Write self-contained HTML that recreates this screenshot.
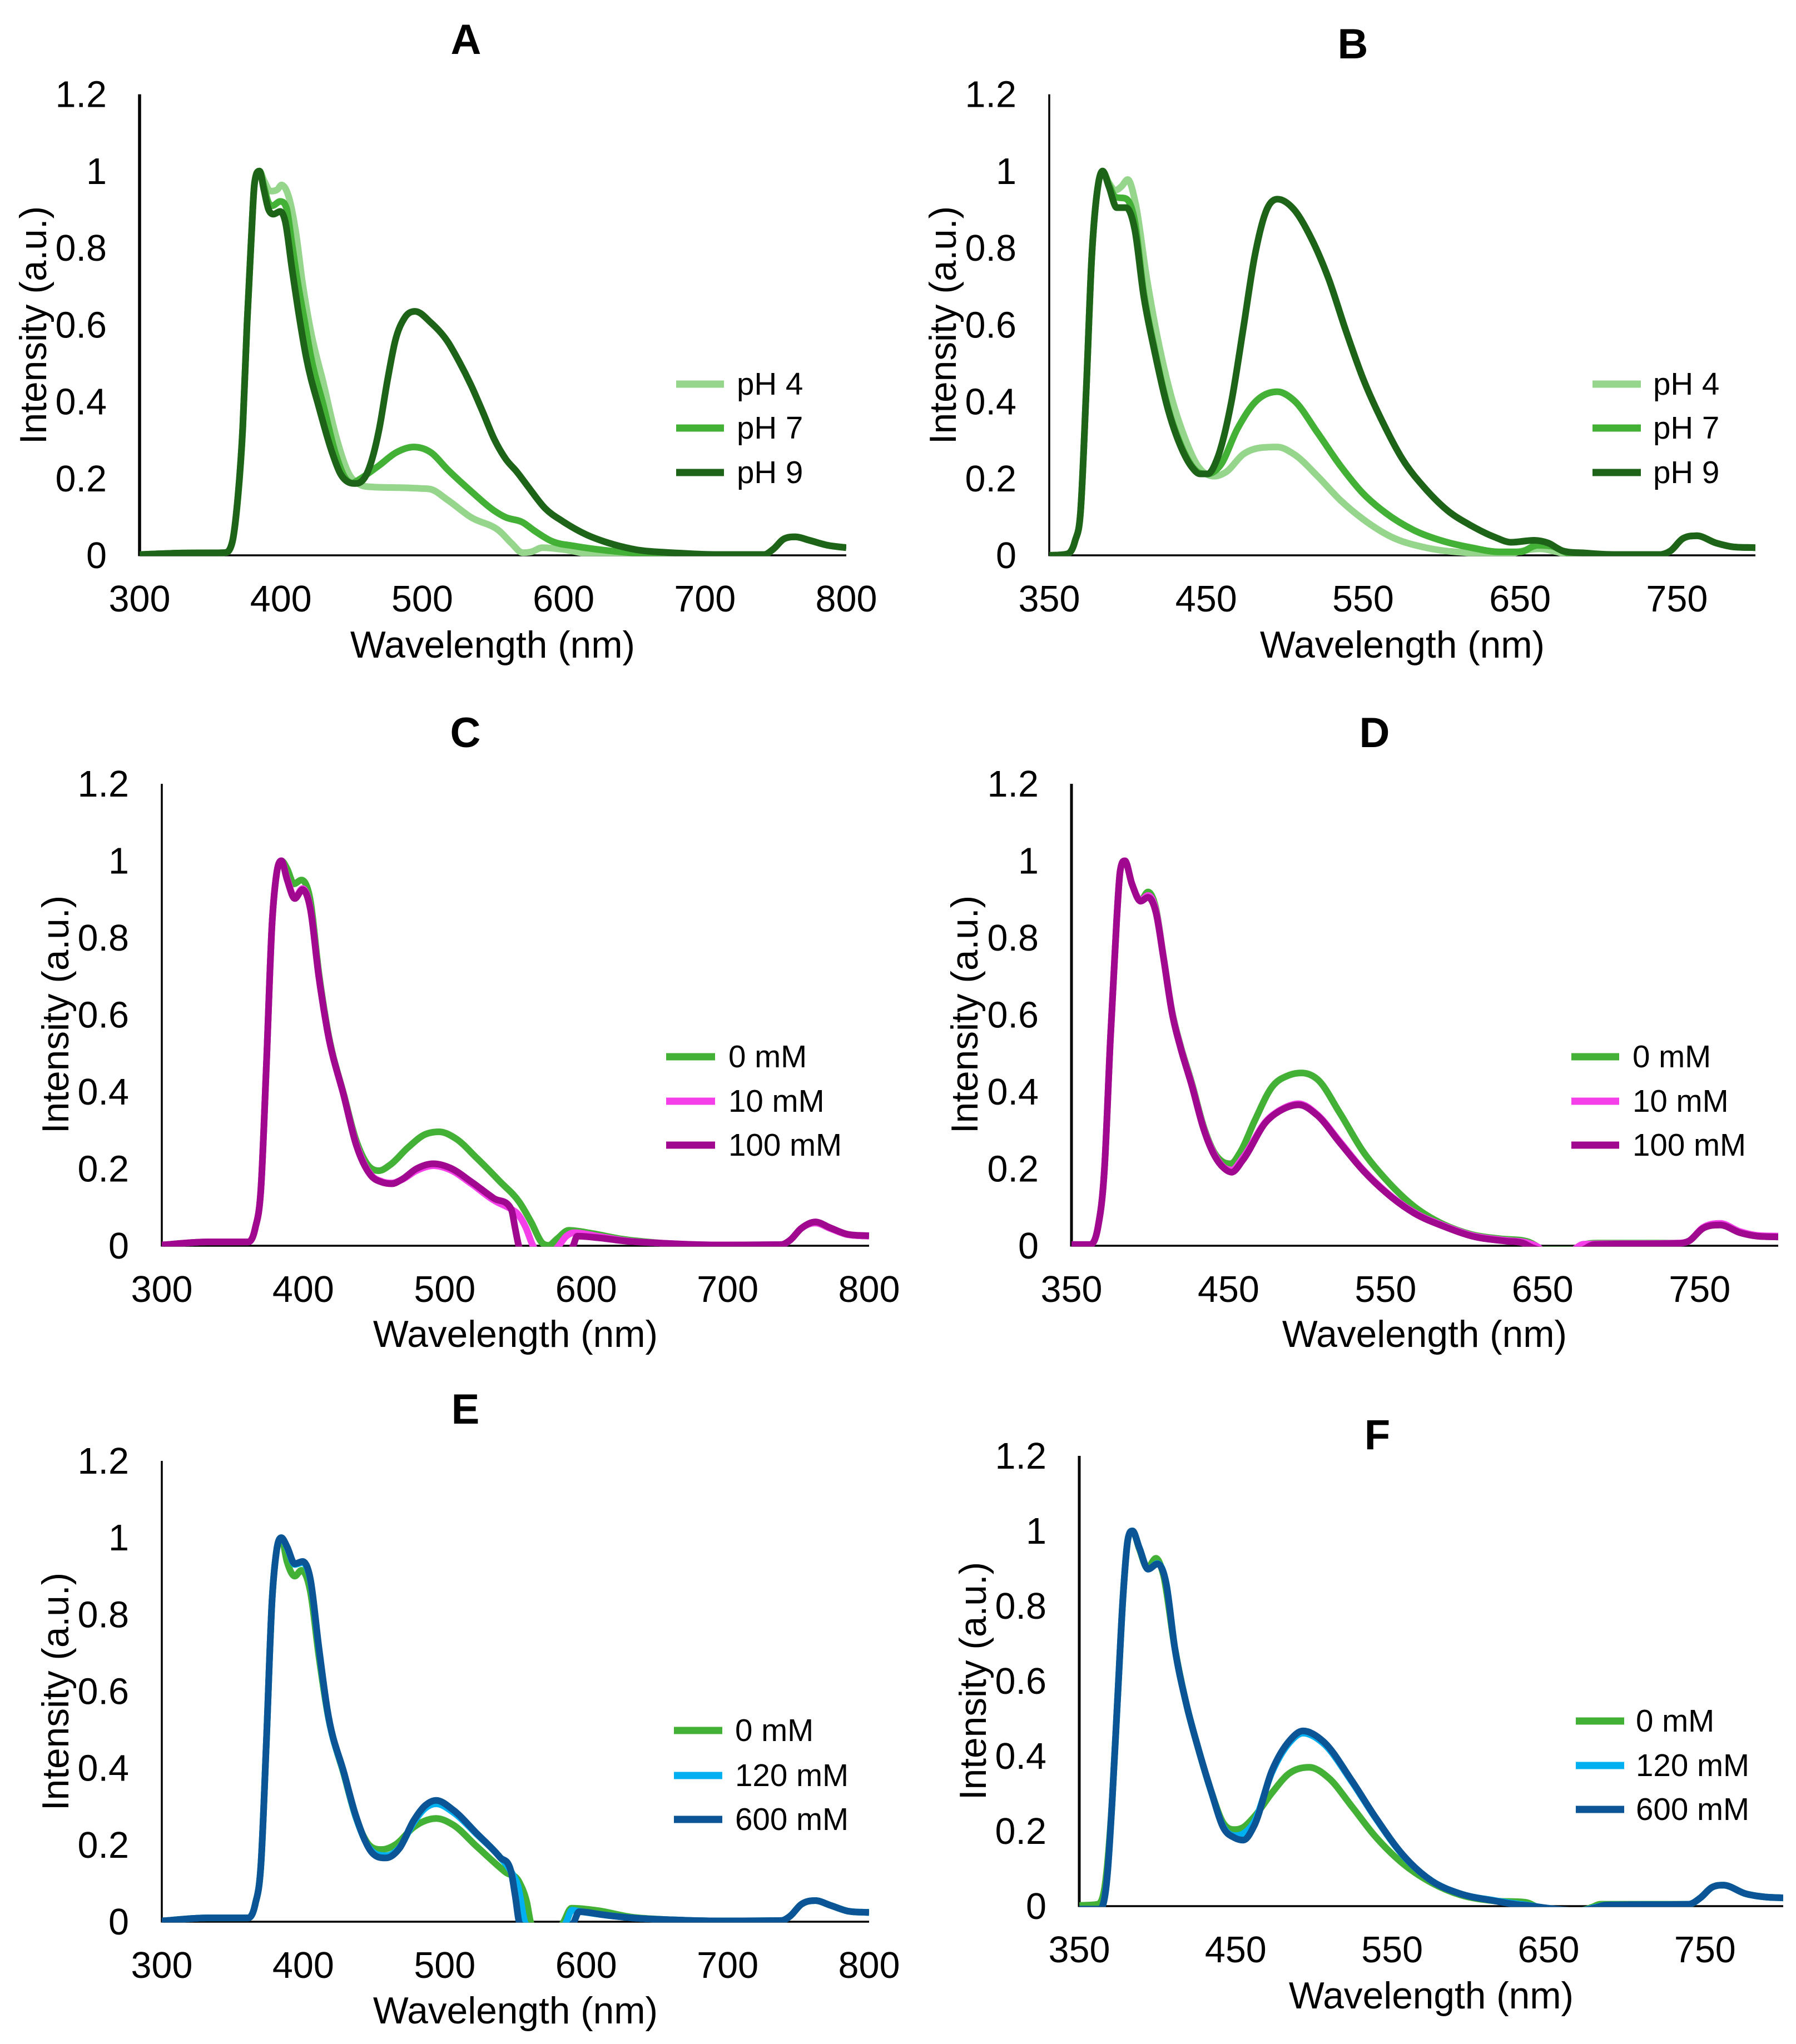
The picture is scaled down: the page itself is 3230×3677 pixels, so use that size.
<!DOCTYPE html>
<html lang="en">
<head>
<meta charset="utf-8">
<title>Emission spectra panels A-F</title>
<style>
html,body{margin:0;padding:0;background:#fff;width:3230px;height:3677px;overflow:hidden}
svg{position:absolute;left:0;top:0;display:block}
text{font-family:"Liberation Sans",Arial,sans-serif;fill:#000}
.title{font-size:76px;font-weight:700;text-anchor:middle}
.axt{font-size:67.6px;text-anchor:middle}
.tick{font-size:66.5px}
.leg{font-size:56.5px}
</style>
</head>
<body>
<svg xmlns="http://www.w3.org/2000/svg" width="3230" height="3677" viewBox="0 0 3230 3677">
<rect x="0" y="0" width="3230" height="3677" fill="#fff"/>

<g id="panel-a">
<text class="title" x="838" y="97">A</text>
<text class="axt" x="886" y="1183">Wavelength (nm)</text>
<text class="axt" transform="translate(83 585) rotate(-90)">Intensity (a.u.)</text>
<g>
<rect x="1216" y="684.5" width="86" height="13" fill="#96D68C"/><text class="leg" x="1325" y="710">pH 4</text>
<rect x="1216" y="763.5" width="86" height="13" fill="#43B036"/><text class="leg" x="1325" y="789">pH 7</text>
<rect x="1216" y="843.5" width="86" height="13" fill="#1E6418"/><text class="leg" x="1325" y="869">pH 9</text>
</g>
</g>

<g id="panel-b">
<text class="title" x="2433" y="105">B</text>
<text class="axt" x="2522" y="1183">Wavelength (nm)</text>
<text class="axt" transform="translate(1719 585) rotate(-90)">Intensity (a.u.)</text>
<g>
<rect x="2864" y="684.5" width="87" height="13" fill="#96D68C"/><text class="leg" x="2973" y="710">pH 4</text>
<rect x="2864" y="763.5" width="87" height="13" fill="#43B036"/><text class="leg" x="2973" y="789">pH 7</text>
<rect x="2864" y="843.5" width="87" height="13" fill="#1E6418"/><text class="leg" x="2973" y="869">pH 9</text>
</g>
</g>

<g id="panel-c">
<text class="title" x="837" y="1344">C</text>
<text class="axt" x="927" y="2423">Wavelength (nm)</text>
<text class="axt" transform="translate(123 1825) rotate(-90)">Intensity (a.u.)</text>
<g>
<rect x="1198" y="1894.5" width="88" height="13" fill="#43B036"/><text class="leg" x="1310" y="1920">0 mM</text>
<rect x="1198" y="1974.5" width="88" height="13" fill="#F53FE8"/><text class="leg" x="1310" y="2000">10 mM</text>
<rect x="1198" y="2053.5" width="88" height="13" fill="#A0088F"/><text class="leg" x="1310" y="2079">100 mM</text>
</g>
</g>

<g id="panel-d">
<text class="title" x="2472" y="1344">D</text>
<text class="axt" x="2562" y="2423">Wavelength (nm)</text>
<text class="axt" transform="translate(1758 1825) rotate(-90)">Intensity (a.u.)</text>
<g>
<rect x="2826" y="1894.5" width="86" height="13" fill="#43B036"/><text class="leg" x="2936" y="1920">0 mM</text>
<rect x="2826" y="1974.5" width="86" height="13" fill="#F53FE8"/><text class="leg" x="2936" y="2000">10 mM</text>
<rect x="2826" y="2053.5" width="86" height="13" fill="#A0088F"/><text class="leg" x="2936" y="2079">100 mM</text>
</g>
</g>

<g id="panel-e">
<text class="title" x="837" y="2561">E</text>
<text class="axt" x="927" y="3640">Wavelength (nm)</text>
<text class="axt" transform="translate(123 3043) rotate(-90)">Intensity (a.u.)</text>
<g>
<rect x="1212" y="3106.5" width="87" height="13" fill="#43B036"/><text class="leg" x="1322" y="3132">0 mM</text>
<rect x="1212" y="3187.5" width="87" height="13" fill="#00B0F0"/><text class="leg" x="1322" y="3213">120 mM</text>
<rect x="1212" y="3266.5" width="87" height="13" fill="#0B5495"/><text class="leg" x="1322" y="3292">600 mM</text>
</g>
</g>

<g id="panel-f">
<text class="title" x="2477" y="2607">F</text>
<text class="axt" x="2574" y="3613">Wavelength (nm)</text>
<text class="axt" transform="translate(1773 3024) rotate(-90)">Intensity (a.u.)</text>
<g>
<rect x="2834" y="3089.5" width="87" height="13" fill="#43B036"/><text class="leg" x="2942" y="3115">0 mM</text>
<rect x="2834" y="3169.5" width="87" height="13" fill="#00B0F0"/><text class="leg" x="2942" y="3195">120 mM</text>
<rect x="2834" y="3248.5" width="87" height="13" fill="#0B5495"/><text class="leg" x="2942" y="3274">600 mM</text>
</g>
</g>
</svg>

<script>
// Tick labels
const yTicks = [0, 0.2, 0.4, 0.6, 0.8, 1, 1.2];
const xTicks300 = [300, 400, 500, 600, 700, 800];
const xTicks350 = [350, 450, 550, 650, 750];

// Panel A
const aNmPh4 = [300,330,360,365.5,369,373,376,379,381.3,384.8,388,392.6,397.5,400.4,406,411,415,421,430,439,448,456,465,487,499,506,518,534.5,555,563,571,577,585,600,620,660,709,742,748,756,764,774,787,800];
const aValPh4 = [.002,.006,.007,.033,.125,.33,.6,.82,.965,1,.976,.948,.952,.964,.927,.83,.717,.586,.449,.31,.213,.184,.178,.176,.174,.172,.144,.099,.062,.032,.007,.009,.02,.015,.003,.001,.002,.002,.015,.043,.048,.039,.026,.02];
const aNmPh7 = [300,330,360,365.5,369,373,376,379,381.3,384.8,388,391,394,399.4,404,407.7,412,416.7,421,430,439,445,451,453,469.5,481.7,494,506,518,534.5,551,559,571,579,591.5,608,632,669,709,742,748,756,764,774,787,800];
const aValPh7 = [.002,.006,.007,.033,.13,.334,.6,.822,.968,1,.96,.92,.91,.921,.903,.814,.708,.611,.521,.391,.261,.204,.188,.192,.234,.268,.282,.268,.223,.167,.116,.099,.086,.065,.037,.024,.012,.003,.002,.002,.015,.043,.048,.039,.026,.02];
const aNmPh9 = [300,330,360,365.5,369,373,376,379,381.3,384.8,388,391,394.8,399.4,403,407.7,412,418,427,436,442,448,453,461.7,469.4,475.4,481,487.5,495,506,518,526,534.5,542.6,551,559,567,575,587,599.6,616,632,648,681,709,742,748,756,764,774,787,800];
const aValPh9 = [.002,.006,.007,.033,.13,.334,.6,.822,.968,1,.951,.903,.888,.895,.87,.749,.643,.513,.384,.27,.213,.19,.187,.22,.326,.456,.56,.618,.635,.606,.556,.505,.443,.375,.302,.251,.217,.178,.122,.088,.054,.032,.017,.006,.002,.002,.015,.043,.048,.039,.026,.02];

// Panel B
const bNmPh4 = [350,361,366.4,370,373.6,377,381,384,388,392,396,400,405,412,419,428,436,444.5,455.4,462.7,473.6,484.5,495.4,506,521,535.4,550,568,590,619,641,652,662.6,673.5,681,692,710,739,746,753.5,762.6,775,786,800];
const bValPh4 = [0,.003,.037,.116,.432,.77,.96,1,.97,.95,.96,.978,.916,.725,.567,.41,.31,.234,.206,.217,.263,.28,.282,.263,.206,.144,.094,.048,.02,.006,.002,.012,.017,.009,.002,.002,.002,.002,.012,.043,.051,.032,.022,.02];
const bNmPh7 = [350,361,366.4,370,373.6,377,381,384,388,392,399,404.5,410,417,426,433.6,441,446,451,459,470,481,495.4,506,521,535.4,550,564.5,582.6,601,619,637,650,661,670,681,692,710,739,746,753.5,762.6,775,786,800];
const bValPh7 = [0,.003,.037,.116,.432,.77,.96,1,.965,.933,.928,.87,.69,.54,.38,.29,.232,.214,.212,.234,.33,.398,.426,.403,.319,.234,.161,.11,.065,.037,.02,.009,.009,.026,.024,.005,.002,.002,.002,.012,.043,.051,.032,.022,.02];
const bNmPh9 = [350,361,366.4,370,373.6,377,381,384,388,393,399,404.5,410,417,426,433.6,441,446,451,457,466,473.6,481,488,495.4,506,517,528,539,550,564.5,575,590,604,619,633.5,644.4,659,668,677,692,710,739,746,753.5,762.6,775,786,800];
const bValPh9 = [0,.003,.037,.116,.432,.77,.96,1,.96,.905,.905,.848,.68,.533,.375,.285,.229,.212,.212,.251,.398,.589,.78,.894,.927,.9,.825,.72,.585,.46,.33,.251,.172,.116,.077,.048,.034,.039,.032,.012,.006,.002,.002,.012,.043,.051,.032,.022,.02];

// Panel C
const cNm0 = [300,332,361,366,370,374,378,381,384.5,388.5,393.4,398.7,405,411,417,429,437,445.4,453.5,461.7,474,486,496,508,522.6,539,553,561,569,573.4,579.5,587.6,604,624,652.6,693,738,744,752,762,772.4,784.6,800];
const cVal0 = [.002,.01,.01,.045,.145,.477,.84,.963,1,.98,.94,.95,.897,.709,.565,.388,.278,.211,.195,.211,.255,.289,.296,.278,.228,.167,.112,.062,.007,.001,.018,.04,.032,.018,.007,.002,.003,.014,.045,.059,.045,.029,.025];
const cNm10 = [300,332,361,366,370,374,378,381,384.5,388.5,394,399.5,405,411,417,429,437,447.5,455.6,462.5,470,480,492,504,518.5,534.8,547,551,557,562.4,570,579.5,586,591.6,608,628,652.6,693,738,744,752,762,772.4,784.6,800];
const cVal10 = [.002,.01,.01,.045,.145,.477,.84,.963,1,.955,.905,.928,.877,.7,.56,.385,.27,.186,.167,.163,.172,.195,.208,.197,.162,.118,.095,.085,.05,0,-.03,-.005,.025,.034,.025,.013,.007,.002,.003,.014,.045,.059,.045,.029,.025];
const cNm100 = [300,332,361,366,370,374,378,381,384.5,388.5,394,399.5,405,411,417,429,437,447.5,455.6,462.5,470,480,492,504,518.5,534.8,547,549.8,552.3,556,585,590.8,593.7,608,628,652.6,693,738,744,752,762,772.4,784.6,800];
const cVal100 = [.002,.01,.01,.045,.145,.477,.84,.963,1,.952,.902,.925,.875,.698,.56,.385,.267,.184,.165,.161,.173,.2,.213,.202,.167,.123,.095,.045,0,-.03,-.03,0,.025,.021,.012,.007,.002,.003,.014,.045,.062,.047,.03,.026];

// Panel D
const dNm0 = [350,361,366.7,371,374.7,378.7,381,384,388.5,394,398.7,403.8,408.5,414,419.4,426.7,434,441.2,446.7,451.4,457.6,466.7,477.6,488.5,496.5,506.7,521,535.8,550,568.5,586.6,605,623,641,646.6,650,670,677.5,685,735.8,743,752,763,775.6,786.5,800];
const dVal0 = [.003,.003,.045,.2,.532,.842,.974,1,.94,.897,.919,.875,.753,.609,.52,.421,.311,.24,.217,.213,.244,.325,.412,.443,.449,.432,.344,.244,.173,.101,.056,.029,.018,.01,-.002,-.01,-.01,.004,.007,.007,.012,.045,.054,.034,.025,.023];
const dNm10 = [350,361,366.7,371,374.7,378.7,381,384,388.5,394,398.7,403.8,408.5,414,419.4,426.7,434,441.2,446.7,452,459,474,484.8,494.7,506.7,521,535.8,550,568.5,586.6,605,626.5,640,647,650,668,676,735.8,743,752,763,775.6,786.5,800];
const dVal10 = [.003,.003,.045,.2,.532,.842,.974,1,.94,.897,.91,.87,.752,.607,.517,.417,.307,.236,.205,.197,.228,.324,.357,.369,.34,.27,.197,.141,.086,.053,.027,.014,.008,-.003,-.012,-.012,.004,.007,.012,.047,.058,.037,.027,.025];
const dNm100 = [350,361,366.7,371,374.7,378.7,381,384,388.5,394,398.7,403.8,408.5,414,419.4,426.7,434,441.2,446.7,452,459,474,484.8,494.7,506.7,521,535.8,550,568.5,586.6,605,626.5,637.5,643,650,673.7,682.8,735.8,743,752,763,775.6,786.5,800];
const dVal100 = [.003,.003,.045,.2,.532,.842,.974,1,.94,.895,.905,.865,.75,.605,.515,.415,.305,.233,.203,.191,.222,.322,.355,.366,.338,.267,.195,.139,.084,.051,.025,.012,.007,-.004,-.012,-.012,.003,.006,.012,.045,.054,.034,.025,.023];

// Panel E
const eNm0 = [300,332,361,366,370,374,378,381,384.5,388.5,394,398.7,405,411,417,429,437,445,455.6,465.7,478,494,506,522.6,543,553,558,561,570,583.5,589.6,608,632,660,693,738,744,752,762,772.4,784.6,800];
const eVal0 = [.002,.01,.01,.045,.145,.477,.84,.963,1,.938,.9,.915,.86,.692,.547,.38,.274,.207,.188,.202,.246,.269,.252,.196,.129,.101,.051,-.004,-.03,-.004,.035,.029,.012,.005,.002,.003,.014,.045,.055,.043,.028,.024];
const eNm120 = [300,332,361,366,370,374,378,381,384.5,388.5,394,399.5,405,411,417,429,437,447,458.4,467.8,478,486,494,506,522.6,539,547,552,557,570,585.5,590,595,612,632,660,693,738,744,752,762,772.4,784.6,800];
const eVal120 = [.002,.01,.01,.045,.145,.477,.84,.963,1,.975,.93,.935,.89,.712,.55,.383,.275,.19,.172,.192,.258,.295,.307,.285,.228,.168,.13,.09,-.004,-.03,-.004,.03,.027,.018,.01,.005,.002,.003,.014,.045,.055,.043,.028,.024];
const eNm600 = [300,332,361,366,370,374,378,381,384.5,388.5,394,399.5,405,411,417,429,437,447.5,458.4,467.8,478,486,494,506,522.6,539,547,549.8,553,570,590.8,595,612,632,660,693,738,744,752,762,772.4,784.6,800];
const eVal600 = [.002,.01,.01,.045,.145,.477,.84,.963,1,.977,.932,.938,.893,.715,.553,.385,.278,.185,.166,.19,.263,.302,.316,.291,.23,.168,.129,.068,-.004,-.03,-.004,.026,.018,.01,.005,.002,.003,.014,.045,.055,.043,.028,.024];

// Panel F
const fNm0 = [350,361.7,367,371,374.5,378,381,384,388.4,393.5,399,403.7,411,418.3,425.6,434.7,442,449.4,454.8,462,473,484,497,509.6,524,539,557,575.4,593.6,615.6,635.7,643,650,670,677.7,683,739.6,747,754.4,761.7,776,787,800];
const fVal0 = [.002,.005,.073,.279,.553,.827,.975,1,.952,.901,.927,.884,.69,.541,.427,.301,.222,.204,.21,.239,.301,.353,.37,.341,.267,.187,.113,.062,.03,.014,.01,-.003,-.012,-.012,-.003,.005,.005,.022,.05,.056,.033,.025,.022];
const fNm120 = [350,363,368,371,374.5,378,381,384,388.4,394,400,405.5,411,418.3,425.6,434.7,442,449.4,454.8,462,473,484,493,506,524,539,557,575.4,593.6,615.6,630,638,645,670,680,686.7,739.6,747,754.4,761.7,776,787,800];
const fVal120 = [-.008,-.008,.085,.279,.553,.827,.975,1,.955,.898,.913,.862,.69,.541,.427,.3,.212,.188,.193,.226,.355,.434,.461,.434,.333,.237,.135,.067,.033,.015,.006,.002,-.003,-.012,-.003,.003,.005,.022,.05,.056,.033,.025,.022];
const fNm600 = [350,363,368,371,374.5,378,381,384,388.4,394,400,405.5,411,418.3,425.6,434.7,442,449.4,454.8,462,473,484,493,506,524,539,557,575.4,593.6,615.6,630,638,645,670,680,686.7,739.6,747,754.4,761.7,776,787,800];
const fVal600 = [-.008,-.008,.085,.279,.553,.827,.975,1,.955,.898,.912,.861,.69,.541,.427,.301,.21,.182,.176,.216,.359,.439,.467,.439,.336,.239,.136,.067,.033,.014,.004,.001,-.003,-.012,-.004,.003,.005,.022,.05,.056,.033,.025,.022];

const SVGNS = 'http://www.w3.org/2000/svg';

function smoothPath(px, py) {
  const n = Math.min(px.length, py.length);
  const d = [], m = [];
  for (let i = 0; i < n - 1; i++) d.push((py[i + 1] - py[i]) / (px[i + 1] - px[i]));
  m[0] = d[0];
  m[n - 1] = d[n - 2];
  for (let i = 1; i < n - 1; i++) {
    if (d[i - 1] * d[i] <= 0) { m[i] = 0; continue; }
    const h0 = px[i] - px[i - 1], h1 = px[i + 1] - px[i];
    const avg = (h1 * d[i - 1] + h0 * d[i]) / (h0 + h1);
    const lim = 3 * Math.min(Math.abs(d[i - 1]), Math.abs(d[i]));
    m[i] = Math.sign(avg) * Math.min(Math.abs(avg), lim);
  }
  let s = 'M' + px[0].toFixed(1) + ' ' + py[0].toFixed(1);
  for (let i = 0; i < n - 1; i++) {
    const h = (px[i + 1] - px[i]) / 3;
    s += 'C' + (px[i] + h).toFixed(1) + ' ' + (py[i] + m[i] * h).toFixed(1) + ' ' +
         (px[i + 1] - h).toFixed(1) + ' ' + (py[i + 1] - m[i + 1] * h).toFixed(1) + ' ' +
         px[i + 1].toFixed(1) + ' ' + py[i + 1].toFixed(1);
  }
  return s;
}

function drawPanel(id, cfg) {
  const host = document.getElementById(id);
  const xScale = function (nm) { return cfg.left + (nm - cfg.xMin) / (cfg.xMax - cfg.xMin) * (cfg.right - cfg.left); };
  const yScale = function (v) { return cfg.base - v / 1.2 * (cfg.base - cfg.top); };

  const defs = document.createElementNS(SVGNS, 'defs');
  const clip = document.createElementNS(SVGNS, 'clipPath');
  clip.setAttribute('id', id + '-clip');
  const cr = document.createElementNS(SVGNS, 'rect');
  cr.setAttribute('x', cfg.left);
  cr.setAttribute('y', cfg.top);
  cr.setAttribute('width', cfg.right - cfg.left);
  cr.setAttribute('height', cfg.base - cfg.top + 1.5);
  clip.appendChild(cr);
  defs.appendChild(clip);
  host.appendChild(defs);

  yTicks.forEach(function (t) {
    const el = document.createElementNS(SVGNS, 'text');
    el.setAttribute('class', 'tick');
    el.setAttribute('text-anchor', 'end');
    el.setAttribute('x', cfg.left - 59);
    el.setAttribute('y', yScale(t) + 23);
    
    
    el.textContent = String(t);
    host.appendChild(el);
  });
  cfg.xTicks.forEach(function (t) {
    const el = document.createElementNS(SVGNS, 'text');
    el.setAttribute('class', 'tick');
    el.setAttribute('text-anchor', 'middle');
    el.setAttribute('x', xScale(t));
    el.setAttribute('y', cfg.base + 101);
    
    
    el.textContent = String(t);
    host.appendChild(el);
  });

  const yAxis = document.createElementNS(SVGNS, 'line');
  yAxis.setAttribute('x1', cfg.left);
  yAxis.setAttribute('x2', cfg.left);
  yAxis.setAttribute('y1', cfg.top);
  yAxis.setAttribute('y2', cfg.base + 1.5);
  yAxis.setAttribute('stroke', '#000');
  yAxis.setAttribute('stroke-width', cfg.axisWidth);
  
  
  host.appendChild(yAxis);

  const xAxis = document.createElementNS(SVGNS, 'line');
  xAxis.setAttribute('x1', cfg.left);
  xAxis.setAttribute('x2', cfg.right);
  xAxis.setAttribute('y1', cfg.base);
  xAxis.setAttribute('y2', cfg.base);
  xAxis.setAttribute('stroke', '#000');
  xAxis.setAttribute('stroke-width', 3.5);
  
  
  host.appendChild(xAxis);

  cfg.series.forEach(function (s) {
    const p = document.createElementNS(SVGNS, 'path');
    p.setAttribute('d', smoothPath(s.nm.map(xScale), s.val.map(yScale)));
    p.setAttribute('fill', 'none');
    p.setAttribute('stroke', s.color);
    p.setAttribute('stroke-width', 12);
    p.setAttribute('stroke-linejoin', 'round');
    p.setAttribute('clip-path', 'url(#' + id + '-clip)');
    
    
    host.appendChild(p);
  });
}

const LIGHT = '#96D68C', GREEN = '#43B036', DARK = '#1E6418', PINK = '#F53FE8', PURPLE = '#A0088F', SKY = '#00B0F0', NAVY = '#0B5495';

drawPanel('panel-a', {left: 251, right: 1522, top: 169.6, base: 999, xMin: 300, xMax: 800, xTicks: xTicks300, axisWidth: 5.5, series: [
  {name: 'series-ph4', nm: aNmPh4, val: aValPh4, color: LIGHT},
  {name: 'series-ph7', nm: aNmPh7, val: aValPh7, color: GREEN},
  {name: 'series-ph9', nm: aNmPh9, val: aValPh9, color: DARK}]});
drawPanel('panel-b', {left: 1887, right: 3157, top: 169.6, base: 999, xMin: 350, xMax: 800, xTicks: xTicks350, axisWidth: 3.5, series: [
  {name: 'series-ph4', nm: bNmPh4, val: bValPh4, color: LIGHT},
  {name: 'series-ph7', nm: bNmPh7, val: bValPh7, color: GREEN},
  {name: 'series-ph9', nm: bNmPh9, val: bValPh9, color: DARK}]});
drawPanel('panel-c', {left: 291, right: 1563, top: 1410, base: 2241, xMin: 300, xMax: 800, xTicks: xTicks300, axisWidth: 3.5, series: [
  {name: 'series-0mm', nm: cNm0, val: cVal0, color: GREEN},
  {name: 'series-10mm', nm: cNm10, val: cVal10, color: PINK},
  {name: 'series-100mm', nm: cNm100, val: cVal100, color: PURPLE}]});
drawPanel('panel-d', {left: 1927, right: 3198, top: 1410, base: 2241, xMin: 350, xMax: 800, xTicks: xTicks350, axisWidth: 5, series: [
  {name: 'series-0mm', nm: dNm0, val: dVal0, color: GREEN},
  {name: 'series-10mm', nm: dNm10, val: dVal10, color: PINK},
  {name: 'series-100mm', nm: dNm100, val: dVal100, color: PURPLE}]});
drawPanel('panel-e', {left: 291, right: 1563, top: 2628, base: 3457, xMin: 300, xMax: 800, xTicks: xTicks300, axisWidth: 3.5, series: [
  {name: 'series-0mm', nm: eNm0, val: eVal0, color: GREEN},
  {name: 'series-120mm', nm: eNm120, val: eVal120, color: SKY},
  {name: 'series-600mm', nm: eNm600, val: eVal600, color: NAVY}]});
drawPanel('panel-f', {left: 1941, right: 3207, top: 2619, base: 3429, xMin: 350, xMax: 800, xTicks: xTicks350, axisWidth: 5, series: [
  {name: 'series-0mm', nm: fNm0, val: fVal0, color: GREEN},
  {name: 'series-120mm', nm: fNm120, val: fVal120, color: SKY},
  {name: 'series-600mm', nm: fNm600, val: fVal600, color: NAVY}]});
</script>
</body>
</html>
